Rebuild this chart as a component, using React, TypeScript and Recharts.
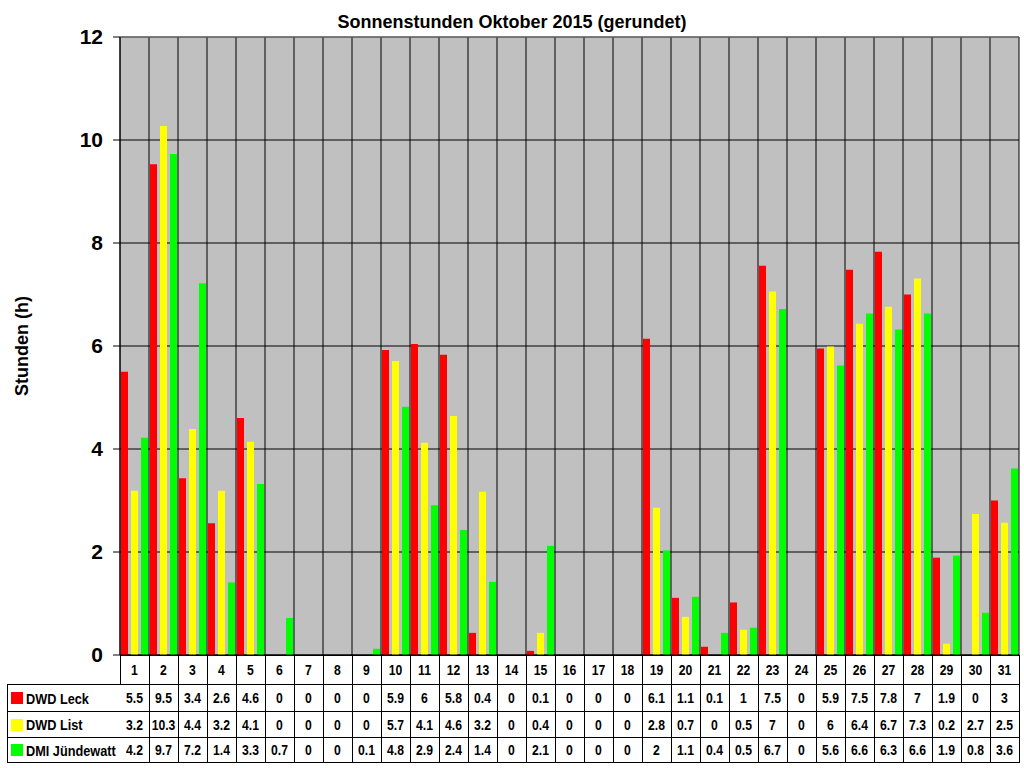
import React from "react";
import {
  BarChart,
  Bar,
  XAxis,
  YAxis,
  CartesianGrid,
  Legend,
  ReferenceLine,
} from "recharts";

// ---------- data ----------
const days = [
  "1", "2", "3", "4", "5", "6", "7", "8", "9", "10", "11", "12", "13", "14", "15", "16",
  "17", "18", "19", "20", "21", "22", "23", "24", "25", "26", "27", "28", "29", "30", "31",
];

// bar heights
const leck = [
  5.5, 9.53, 3.43, 2.56, 4.6, 0, 0, 0, 0, 5.92, 6.04, 5.83, 0.43, 0, 0.08, 0, 0, 0, 6.14, 1.11,
  0.16, 1.02, 7.56, 0, 5.95, 7.48, 7.83, 7.0, 1.89, 0, 3.0,
];
const list = [
  3.19, 10.27, 4.39, 3.19, 4.14, 0, 0, 0, 0, 5.71, 4.12, 4.64, 3.17, 0, 0.43, 0, 0, 0, 2.86, 0.74,
  0, 0.49, 7.06, 0, 5.99, 6.43, 6.76, 7.31, 0.22, 2.74, 2.57,
];
const juendewatt = [
  4.22, 9.73, 7.22, 1.41, 3.32, 0.72, 0, 0, 0.12, 4.82, 2.91, 2.43, 1.42, 0, 2.12, 0, 0, 0, 2.03,
  1.13, 0.43, 0.53, 6.72, 0, 5.62, 6.63, 6.32, 6.63, 1.93, 0.82, 3.62,
];

// rounded values as printed in the data table
const leckLabels = [
  "5.5", "9.5", "3.4", "2.6", "4.6", "0", "0", "0", "0", "5.9", "6", "5.8", "0.4", "0", "0.1", "0",
  "0", "0", "6.1", "1.1", "0.1", "1", "7.5", "0", "5.9", "7.5", "7.8", "7", "1.9", "0", "3",
];
const listLabels = [
  "3.2", "10.3", "4.4", "3.2", "4.1", "0", "0", "0", "0", "5.7", "4.1", "4.6", "3.2", "0", "0.4", "0",
  "0", "0", "2.8", "0.7", "0", "0.5", "7", "0", "6", "6.4", "6.7", "7.3", "0.2", "2.7", "2.5",
];
const juendewattLabels = [
  "4.2", "9.7", "7.2", "1.4", "3.3", "0.7", "0", "0", "0.1", "4.8", "2.9", "2.4", "1.4", "0", "2.1", "0",
  "0", "0", "2", "1.1", "0.4", "0.5", "6.7", "0", "5.6", "6.6", "6.3", "6.6", "1.9", "0.8", "3.6",
];

const yTicks = [0, 2, 4, 6, 8, 10, 12];

const seriesNames = ["DWD Leck", "DWD List", "DMI Jündewatt"];
const seriesColors = ["#FF0000", "#FFFF00", "#00FF00"];

const data = days.map((d, i) => ({
  day: d,
  leck: leck[i],
  list: list[i],
  juendewatt: juendewatt[i],
}));

// ---------- layout ----------
const W = 1024;
const H = 768;
const MARGIN = { top: 37, right: 5, bottom: 6, left: 10 };
const Y_AXIS_W = 110;
const PLOT_W = W - MARGIN.left - MARGIN.right - Y_AXIS_W;
const CELL_W = PLOT_W / days.length;
const ROW_H = [29, 27, 26, 25];
const X_AXIS_H = ROW_H.reduce((a, b) => a + b, 0);

const FONT = "'Liberation Sans', Arial, sans-serif";

const TableTick = (props: any) => {
  const { x, y, payload } = props;
  const i = days.indexOf(String(payload.value));
  const texts = [payload.value, leckLabels[i], listLabels[i], juendewattLabels[i]];
  let top = y;
  const left = x - CELL_W / 2;
  return (
    <g>
      {texts.map((t, r) => {
        const rowTop = top;
        top += ROW_H[r];
        const cy = rowTop + ROW_H[r] / 2 + 1;
        return (
          <g key={r}>
            <rect
              x={left}
              y={rowTop}
              width={CELL_W}
              height={ROW_H[r]}
              fill="#fff"
              stroke="#000"
              strokeWidth={1}
              shapeRendering="crispEdges"
            />
            <text
              transform={`translate(${x} ${cy}) scale(0.84 1)`}
              x={0}
              y={0}
              textAnchor="middle"
              dominantBaseline="central"
              fontFamily={FONT}
              fontWeight="bold"
              fontSize={14.5}
              fill="#000"
            >
              {t}
            </text>
          </g>
        );
      })}
    </g>
  );
};

const LegendTable = () => {
  const rows = ROW_H.slice(1);
  return (
    <div
      style={{
        width: 114,
        background: "#fff",
        borderLeft: "1px solid #000",
        borderTop: "1px solid #000",
        boxSizing: "border-box",
      }}
    >
      {seriesNames.map((name, r) => (
        <div
          key={r}
          style={{
            height: rows[r],
            borderBottom: "1px solid #000",
            boxSizing: "border-box",
            display: "flex",
            alignItems: "center",
            paddingLeft: 3,
          }}
        >
          <span
            style={{
              display: "inline-block",
              flex: "0 0 12px",
              width: 12,
              height: 12,
              background: seriesColors[r],
              marginRight: 3,
            }}
          />
          <span
            style={{
              display: "inline-block",
              fontFamily: FONT,
              fontWeight: "bold",
              fontSize: 15.5,
              color: "#000",
              whiteSpace: "nowrap",
              transform: "scaleX(0.82)",
              transformOrigin: "left center",
              marginTop: 1,
            }}
          >
            {name}
          </span>
        </div>
      ))}
    </div>
  );
};

const YLabel = (props: any) => {
  const vb = props.viewBox || { x: 0, y: 0, width: 0, height: 0 };
  const cx = vb.x + 12;
  const cy = vb.y + vb.height / 2;
  return (
    <text
      x={cx}
      y={cy}
      transform={`rotate(-90 ${cx} ${cy})`}
      textAnchor="middle"
      dominantBaseline="central"
      fontFamily={FONT}
      fontWeight="bold"
      fontSize={18}
      fill="#000"
    >
      Stunden (h)
    </text>
  );
};

export default function App() {
  return (
    <div style={{ position: "absolute", left: 0, top: 0, width: W, height: H, background: "#fff", fontFamily: FONT }}>
      <div
        style={{
          position: "absolute",
          left: 0,
          top: 12,
          width: W,
          textAlign: "center",
          fontFamily: FONT,
          fontWeight: "bold",
          fontSize: 18,
          lineHeight: "20px",
          color: "#000",
          zIndex: 2,
        }}
      >
        Sonnenstunden Oktober 2015 (gerundet)
      </div>
      <BarChart
        width={W}
        height={H}
        data={data}
        margin={MARGIN}
        barGap={3}
        barCategoryGap={1}
      >
        <CartesianGrid
          stroke="#000"
          strokeWidth={1}
          fill="#C0C0C0"
          fillOpacity={1}
          horizontalValues={yTicks}
          verticalCoordinatesGenerator={({ offset }: any) =>
            days.map((_, i) => offset.left + i * (offset.width / days.length)).concat([offset.left + offset.width])
          }
        />
        <XAxis
          dataKey="day"
          type="category"
          height={X_AXIS_H}
          tickSize={0}
          tickMargin={0}
          tickLine={false}
          axisLine={{ stroke: "#000" }}
          interval={0}
          tick={<TableTick />}
        />
        <YAxis
          width={Y_AXIS_W}
          domain={[0, 12]}
          ticks={yTicks}
          interval={0}
          tickSize={7}
          tickMargin={10}
          axisLine={{ stroke: "#000" }}
          tickLine={{ stroke: "#000" }}
          tick={{ fill: "#000", fontSize: 21, fontWeight: "bold", fontFamily: FONT }}
          label={<YLabel />}
        />
        <ReferenceLine y={12} stroke="#808080" strokeWidth={1} />
        <Legend
          layout="vertical"
          align="center"
          verticalAlign="middle"
          content={<LegendTable />}
          wrapperStyle={{ left: 7, top: 684, width: 114 }}
        />
        <Bar dataKey="leck" name={seriesNames[0]} fill={seriesColors[0]} barSize={7} isAnimationActive={false} />
        <Bar dataKey="list" name={seriesNames[1]} fill={seriesColors[1]} barSize={7} isAnimationActive={false} />
        <Bar dataKey="juendewatt" name={seriesNames[2]} fill={seriesColors[2]} barSize={7} isAnimationActive={false} />
      </BarChart>
    </div>
  );
}
